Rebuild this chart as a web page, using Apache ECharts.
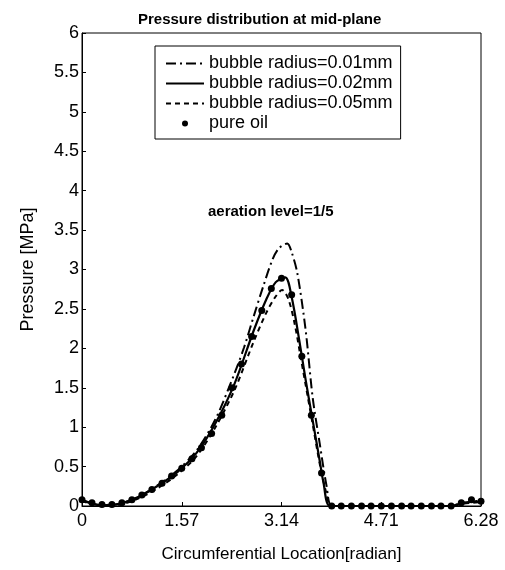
<!DOCTYPE html>
<html>
<head>
<meta charset="utf-8">
<title>Pressure distribution at mid-plane</title>
<script src="https://cdn.jsdelivr.net/npm/echarts@6/dist/echarts.min.js"></script>
<style>
  html, body { margin: 0; padding: 0; background: #fff; }
  #chart { width: 505px; height: 570px; }
</style>
</head>
<body>
<div id="chart"></div>
<script>
// datos (x en radianes, presion en MPa)
const xTicks = [0, 1.57, 3.14, 4.71, 6.28];

const r001X = [0, 0.3, 0.6, 0.9, 1.2, 1.5, 1.8, 2.1, 2.4, 2.55, 2.7, 2.85, 3.0, 3.1, 3.23, 3.3, 3.39, 3.52, 3.63, 3.74, 3.85, 3.93, 4.2, 5.0, 5.8, 6.0, 6.28];
const r001Y = [0.07, 0.01, 0.03, 0.12, 0.27, 0.45, 0.7, 1.1, 1.68, 2.01, 2.4, 2.78, 3.13, 3.27, 3.33, 3.22, 2.95, 2.23, 1.38, 0.8, 0.25, 0, 0, 0, 0, 0.04, 0.07];

const r002X = [0, 0.3, 0.6, 0.9, 1.2, 1.5, 1.8, 2.1, 2.4, 2.7, 2.9, 3.05, 3.2, 3.3, 3.42, 3.52, 3.63, 3.74, 3.8, 3.9, 4.2, 5.0, 5.8, 6.0, 6.28];
const r002Y = [0.08, 0.01, 0.03, 0.12, 0.26, 0.43, 0.67, 1.05, 1.55, 2.22, 2.62, 2.84, 2.9, 2.65, 2.1, 1.6, 1.09, 0.58, 0.3, 0, 0, 0, 0, 0.04, 0.06];

const r005X = [0, 0.3, 0.6, 0.9, 1.2, 1.5, 1.8, 2.1, 2.4, 2.7, 2.9, 3.05, 3.15, 3.25, 3.35, 3.45, 3.55, 3.65, 3.75, 3.85, 3.92, 4.2, 5.0, 5.8, 6.0, 6.28];
const r005Y = [0.06, 0.01, 0.02, 0.1, 0.23, 0.4, 0.63, 1.0, 1.47, 2.08, 2.45, 2.66, 2.74, 2.62, 2.3, 1.85, 1.4, 0.95, 0.5, 0.15, 0, 0, 0, 0, 0.03, 0.05];

const oilX = [0, 0.157, 0.314, 0.471, 0.628, 0.785, 0.942, 1.1, 1.26, 1.41, 1.57, 1.73, 1.88, 2.04, 2.2, 2.36, 2.51, 2.67, 2.83, 2.98, 3.14, 3.3, 3.46, 3.61, 3.77, 3.93, 4.08, 4.24, 4.4, 4.55, 4.71, 4.87, 5.03, 5.18, 5.34, 5.5, 5.65, 5.81, 5.97, 6.13, 6.28];
const oilY = [0.08, 0.04, 0.02, 0.02, 0.04, 0.08, 0.14, 0.21, 0.29, 0.38, 0.48, 0.6, 0.74, 0.92, 1.15, 1.5, 1.8, 2.15, 2.48, 2.76, 2.89, 2.68, 1.9, 1.15, 0.42, 0, 0, 0, 0, 0, 0, 0, 0, 0, 0, 0, 0, 0, 0.04, 0.08, 0.06];

const seriesNames = ["bubble radius=0.01mm", "bubble radius=0.02mm", "bubble radius=0.05mm", "pure oil"];

function pares(xs, ys) {
  return xs.map((x, i) => [x, ys[i]]);
}

const fuente = "'Liberation Sans', Arial, sans-serif";
const chart = echarts.init(document.getElementById("chart"));

// en la leyenda las lineas van sin el punto que ECharts dibuja por defecto
const sinPunto = { color: "rgba(0,0,0,0)", borderColor: "rgba(0,0,0,0)", borderWidth: 0 };

chart.setOption({
  animation: false,
  backgroundColor: "#fff",
  title: {
    text: "Pressure distribution at mid-plane",
    left: 133,
    top: 7,
    textStyle: { fontFamily: fuente, fontSize: 15, fontWeight: "bold", color: "#000" },
  },
  grid: {
    left: 82, right: 24, top: 33, bottom: 64,
    show: true, borderColor: "#000", borderWidth: 1,
  },
  legend: {
    orient: "vertical",
    left: 155,
    top: 46,
    padding: [8, 8, 6, 10],
    borderColor: "#000",
    borderWidth: 1,
    itemWidth: 38,
    itemHeight: 6,
    itemGap: 1,
    data: [
      { name: seriesNames[0], itemStyle: sinPunto },
      { name: seriesNames[1], itemStyle: sinPunto },
      { name: seriesNames[2], itemStyle: sinPunto },
      { name: seriesNames[3] },
    ],
    textStyle: { fontFamily: fuente, fontSize: 18, color: "#000", lineHeight: 19 },
  },
  graphic: [{
    type: "text",
    left: 208,
    top: 204,
    style: { text: "aeration level=1/5", font: "bold 15px " + fuente, fill: "#000" },
  }],
  xAxis: {
    type: "value",
    min: 0,
    max: 6.28,
    interval: 1.57,
    name: "Circumferential Location[radian]",
    nameLocation: "middle",
    nameGap: 40,
    nameTextStyle: { fontFamily: fuente, fontSize: 17, color: "#000" },
    axisLine: { show: true, lineStyle: { color: "#000", width: 1 } },
    axisTick: { show: true, inside: true, length: 4, lineStyle: { color: "#000" } },
    axisLabel: {
      fontFamily: fuente, fontSize: 18, color: "#000", margin: 6,
      formatter: (v) => (v === 0 ? "0" : v.toFixed(2)),
    },
    splitLine: { show: false },
  },
  yAxis: {
    type: "value",
    min: 0,
    max: 6,
    interval: 0.5,
    name: "Pressure [MPa]",
    nameLocation: "middle",
    nameGap: 45,
    nameTextStyle: { fontFamily: fuente, fontSize: 18, color: "#000" },
    axisLine: { show: true, lineStyle: { color: "#000", width: 1 } },
    axisTick: { show: true, inside: true, length: 4, lineStyle: { color: "#000" } },
    axisLabel: { fontFamily: fuente, fontSize: 18, color: "#000", margin: 3 },
    splitLine: { show: false },
  },
  series: [
    {
      name: seriesNames[0],
      type: "line",
      data: pares(r001X, r001Y),
      smooth: 0.3,
      symbol: "none",
      color: "#000",
      lineStyle: { color: "#000", width: 2, type: [10, 4, 2, 4] },
    },
    {
      name: seriesNames[1],
      type: "line",
      data: pares(r002X, r002Y),
      smooth: 0.3,
      symbol: "none",
      color: "#000",
      lineStyle: { color: "#000", width: 2.2, type: "solid" },
    },
    {
      name: seriesNames[2],
      type: "line",
      data: pares(r005X, r005Y),
      smooth: 0.3,
      symbol: "none",
      color: "#000",
      lineStyle: { color: "#000", width: 2, type: [5, 4] },
    },
    {
      name: seriesNames[3],
      type: "scatter",
      data: pares(oilX, oilY),
      symbol: "circle",
      symbolSize: 7,
      itemStyle: { color: "#000", opacity: 1 },
    },
  ],
});
</script>
</body>
</html>
